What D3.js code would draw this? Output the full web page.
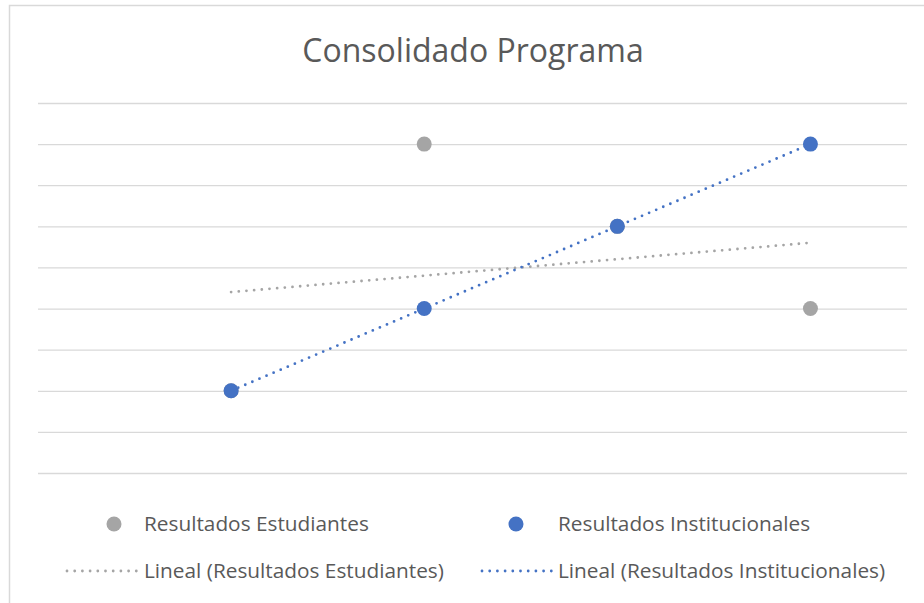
<!DOCTYPE html>
<html>
<head>
<meta charset="utf-8">
<script src="https://cdn.jsdelivr.net/npm/d3@7"></script>
<style>
  html, body { margin: 0; padding: 0; background: #fff; }
  svg { display: block; }
  text { font-family: "Open Sans", "Liberation Sans", sans-serif; fill: #595959; }
</style>
</head>
<body>
<svg id="chart" width="924" height="603"></svg>
<script>
// Chart data
const xValues = [1, 2, 3, 4];
const estudiantes = [2, 8, 6, 4];
const institucionales = [2, 4, 6, 8];
const yTicks = [0, 1, 2, 3, 4, 5, 6, 7, 8, 9];
const seriesNames = ["Resultados Estudiantes", "Resultados Institucionales"];
const trendNames = ["Lineal (Resultados Estudiantes)", "Lineal (Resultados Institucionales)"];
const title = "Consolidado Programa";

const colors = ["#A5A5A5", "#4472C4"];
const W = 924, H = 603;
const svg = d3.select("#chart");

// Chart frame
svg.append("rect")
  .attr("x", 9.5).attr("y", 5.5)
  .attr("width", W + 10).attr("height", H + 10)
  .attr("fill", "#fff").attr("stroke", "#D9D9D9").attr("stroke-width", 1.5);

const x = d3.scaleLinear().domain([0, 4.5]).range([38, 907]);
const y = d3.scaleLinear().domain([0, 9]).range([473, 103]);

// Horizontal gridlines
const grid = d3.axisLeft(y).tickValues(yTicks).tickSize(-(907 - 38)).tickFormat("");
const g = svg.append("g").attr("transform", "translate(38,0)").call(grid);
g.select(".domain").remove();
g.selectAll(".tick line").attr("stroke", "#D9D9D9").attr("stroke-width", 1.3);

// Least-squares trend line
function linearFit(xs, ys) {
  const n = xs.length;
  const mx = d3.mean(xs), my = d3.mean(ys);
  let sxy = 0, sxx = 0;
  for (let i = 0; i < n; i++) {
    sxy += (xs[i] - mx) * (ys[i] - my);
    sxx += (xs[i] - mx) * (xs[i] - mx);
  }
  const m = sxy / sxx;
  return v => my + m * (v - mx);
}

const seriesData = [estudiantes, institucionales];
const line = d3.line().x(d => x(d[0])).y(d => y(d[1]));
const dash = "0 7.7";

seriesData.forEach((vals, i) => {
  const f = linearFit(xValues, vals);
  const x0 = d3.min(xValues), x1 = d3.max(xValues);
  svg.append("path")
    .datum([[x0, f(x0)], [x1, f(x1)]])
    .attr("d", line)
    .attr("fill", "none")
    .attr("stroke", colors[i])
    .attr("stroke-width", 2.8)
    .attr("stroke-linecap", "round")
    .attr("stroke-dasharray", dash);
});

seriesData.forEach((vals, i) => {
  svg.append("g").selectAll("circle")
    .data(xValues.map((xv, j) => [xv, vals[j]]))
    .join("circle")
    .attr("cx", d => x(d[0]))
    .attr("cy", d => y(d[1]))
    .attr("r", 7.5)
    .attr("fill", colors[i]);
});

// Title
svg.append("text")
  .attr("x", 473).attr("y", 62)
  .attr("text-anchor", "middle")
  .attr("font-size", 32)
  .text(title);

// Legend
const legendCols = [{ mark: 114, line0: 67, line1: 137, text: 144 },
                    { mark: 516, line0: 482, line1: 552, text: 558 }];
const row1 = 524, row2 = 571;
legendCols.forEach((c, i) => {
  svg.append("circle").attr("cx", c.mark).attr("cy", row1).attr("r", 7.5).attr("fill", colors[i]);
  svg.append("text").attr("x", c.text).attr("y", row1).attr("dy", "0.35em")
    .attr("font-size", 20.8).text(seriesNames[i]);
  svg.append("line")
    .attr("x1", c.line0).attr("x2", c.line1)
    .attr("y1", row2).attr("y2", row2)
    .attr("stroke", colors[i]).attr("stroke-width", 2.8)
    .attr("stroke-linecap", "round").attr("stroke-dasharray", dash);
  svg.append("text").attr("x", c.text).attr("y", row2).attr("dy", "0.35em")
    .attr("font-size", 20.8).text(trendNames[i]);
});
</script>
</body>
</html>
